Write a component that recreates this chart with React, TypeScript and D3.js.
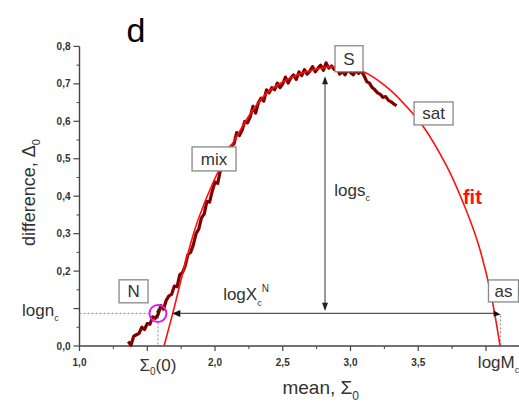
import React from 'react';
import * as d3 from 'd3';

const W = 519;
const H = 403;

// measured difference vs mean (noisy trace)
const dataX = [
  1.36, 1.38, 1.40, 1.42, 1.44, 1.46, 1.48, 1.50, 1.52, 1.54, 1.56, 1.58, 1.60, 1.62, 1.64, 1.66,
  1.68, 1.70, 1.72, 1.74, 1.76, 1.78, 1.80, 1.82, 1.84, 1.86, 1.88, 1.90, 1.92, 1.94, 1.96, 1.98,
  2.00, 2.02, 2.04, 2.06, 2.08, 2.10, 2.12, 2.14, 2.16, 2.18, 2.20, 2.22, 2.24, 2.26, 2.28, 2.30,
  2.32, 2.34, 2.36, 2.38, 2.40, 2.42, 2.44, 2.46, 2.48, 2.50, 2.52, 2.54, 2.56, 2.58, 2.60, 2.62,
  2.64, 2.66, 2.68, 2.70, 2.72, 2.74, 2.76, 2.78, 2.80, 2.82, 2.84, 2.86, 2.88, 2.90, 2.92, 2.94,
  2.96, 2.98, 3.00, 3.02, 3.04, 3.06, 3.08, 3.10, 3.12, 3.14, 3.16, 3.18, 3.20, 3.22, 3.24, 3.26,
  3.28, 3.30, 3.32, 3.34,
];
const dataY = [
  0.012, 0.002, 0.026, 0.030, 0.034, 0.050, 0.044, 0.060, 0.058, 0.078, 0.074, 0.084, 0.108, 0.098, 0.122, 0.134,
  0.138, 0.160, 0.158, 0.190, 0.196, 0.214, 0.244, 0.250, 0.270, 0.300, 0.312, 0.342, 0.352, 0.386, 0.384, 0.414,
  0.438, 0.434, 0.470, 0.492, 0.486, 0.526, 0.534, 0.540, 0.570, 0.562, 0.576, 0.600, 0.596, 0.612, 0.640, 0.622,
  0.650, 0.662, 0.654, 0.684, 0.676, 0.690, 0.684, 0.702, 0.690, 0.700, 0.718, 0.702, 0.716, 0.724, 0.712, 0.732,
  0.722, 0.738, 0.726, 0.734, 0.746, 0.732, 0.742, 0.750, 0.736, 0.756, 0.742, 0.748, 0.738, 0.742, 0.726, 0.734,
  0.724, 0.738, 0.730, 0.724, 0.736, 0.728, 0.735, 0.722, 0.706, 0.702, 0.690, 0.684, 0.676, 0.672, 0.664, 0.666,
  0.656, 0.652, 0.646, 0.642,
];

// fitted curve
const fitX = [1.624, 1.683, 1.875, 2.125, 2.384, 2.613, 2.797, 2.871, 3.092, 3.292, 3.454, 3.528, 3.712, 3.823, 3.934, 4.030, 4.104];
const fitY = [0.000, 0.080, 0.337, 0.537, 0.676, 0.725, 0.743, 0.746, 0.733, 0.684, 0.623, 0.591, 0.479, 0.390, 0.283, 0.150, 0.000];

const xMajorTicks = [1.0, 1.5, 2.0, 2.5, 3.0, 3.5, 4.0];
const xMinorTicks = [1.25, 1.75, 2.25, 2.75, 3.25, 3.75, 4.25];
const xTickLabels = ['1,0', '', '2,0', '2,5', '3,0', '3,5', ''];
const yMajorTicks = [0.0, 0.1, 0.2, 0.3, 0.4, 0.5, 0.6, 0.7, 0.8];
const yMinorTicks = [0.05, 0.15, 0.25, 0.35, 0.45, 0.55, 0.65, 0.75];
const yTickLabels = ['0,0', '', '0,2', '0,3', '0,4', '0,5', '0,6', '0,7', '0,8'];

const stageNames = ['N', 'mix', 'S', 'sat', 'as'];
const stageMean = [1.399, 1.993, 2.989, 3.613, 4.129];
const stageDiff = [0.146, 0.4995, 0.767, 0.621, 0.147];

const FONT = "Arial, 'Liberation Sans', sans-serif";

export default function App() {
  const x = d3.scaleLinear().domain([1, 4.3]).range([79.5, 79.5 + 3.3 * 135.5]);
  const y = d3.scaleLinear().domain([0, 0.8]).range([346, 46.4]);

  const line = d3.line<[number, number]>().x(d => x(d[0])).y(d => y(d[1]));
  const dataPath = line(dataX.map((v, i) => [v, dataY[i]] as [number, number])) || '';
  const fitPath = line.curve(d3.curveCatmullRom.alpha(0.5))(fitX.map((v, i) => [v, fitY[i]] as [number, number])) || '';

  const level = 0.087; // logn_c
  const ly = y(level);
  const sigma00 = 1.579;
  const logM = 4.108;
  const sc = 2.812;
  const axisCol = '#444';
  const txt = '#333';
  const boxW = [29, 44, 28, 39, 30];
  const boxH = [23, 24, 26, 23, 22];

  return (
    <svg width={W} height={H} style={{ position: 'absolute', left: 0, top: 0, background: '#fff' }} fontFamily={FONT}>
      <text x={136} y={42} fontSize={34} textAnchor="middle" fill="#000">d</text>

      {/* axes */}
      <line x1={x(1)} x2={x(1)} y1={y(0)} y2={y(0.8)} stroke={axisCol} strokeWidth={1.4} />
      <line x1={x(1)} x2={W} y1={y(0)} y2={y(0)} stroke={axisCol} strokeWidth={1.4} />
      {yMajorTicks.map((t, i) => (
        <g key={'ym' + i}>
          <line x1={x(1) - 6} x2={x(1)} y1={y(t)} y2={y(t)} stroke={axisCol} strokeWidth={1.2} />
          <text x={x(1) - 9} y={y(t) + 3.5} fontSize={10} fontWeight="bold" textAnchor="end" fill={txt}>{yTickLabels[i]}</text>
        </g>
      ))}
      {yMinorTicks.map((t, i) => (
        <line key={'yn' + i} x1={x(1) - 3} x2={x(1)} y1={y(t)} y2={y(t)} stroke={axisCol} strokeWidth={1} />
      ))}
      {xMajorTicks.map((t, i) => (
        <g key={'xm' + i}>
          <line x1={x(t)} x2={x(t)} y1={y(0)} y2={y(0) + 5} stroke={axisCol} strokeWidth={1.2} />
          <text x={x(t)} y={y(0) + 20} fontSize={10} fontWeight="bold" textAnchor="middle" fill={txt}>{xTickLabels[i]}</text>
        </g>
      ))}
      {xMinorTicks.map((t, i) => (
        <line key={'xn' + i} x1={x(t)} x2={x(t)} y1={y(0)} y2={y(0) + 3} stroke={axisCol} strokeWidth={1} />
      ))}

      {/* axis titles */}
      <text transform={`translate(35,${y(0.41)}) rotate(-90)`} fontSize={18} textAnchor="middle" fill={txt}>
        difference, Δ<tspan fontSize={11} dy={5}>0</tspan>
      </text>
      <text x={x(2.78)} y={394} fontSize={19} textAnchor="middle" fill={txt}>
        mean, Σ<tspan fontSize={12} dy={6}>0</tspan>
      </text>

      {/* guide lines */}
      <line x1={x(1)} x2={x(sigma00) - 9} y1={ly} y2={ly} stroke="#888" strokeWidth={1} strokeDasharray="2 2" />
      <line x1={x(sigma00)} x2={x(sigma00)} y1={ly + 9} y2={y(0)} stroke="#888" strokeWidth={1} strokeDasharray="2 2" />
      <line x1={x(logM)} x2={x(logM)} y1={ly + 2} y2={y(0)} stroke="#888" strokeWidth={1} strokeDasharray="2 2" />

      {/* data + fit */}
      <path d={dataPath} fill="none" stroke="#800000" strokeWidth={3.2} strokeLinejoin="round" />
      <path d={fitPath} fill="none" stroke="#ff1010" strokeWidth={1.6} />

      {/* arrows */}
      <line x1={x(1.69)} x2={x(logM) - 3} y1={ly} y2={ly} stroke="#555" strokeWidth={1.2} />
      <path d={`M${x(1.685)},${ly} l8,-3.5 l0,7 z`} fill="#111" />
      <path d={`M${x(logM)},${ly + 1} l-7,-4 l0,6 z`} fill="#111" />
      <line x1={x(sc)} x2={x(sc)} y1={y(0.715)} y2={y(0.097)} stroke="#555" strokeWidth={1.2} />
      <path d={`M${x(sc)},${y(0.72)} l-3,8 l6,0 z`} fill="#222" />
      <path d={`M${x(sc)},${y(0.094)} l-3,-8 l6,0 z`} fill="#222" />

      {/* N marker */}
      <circle cx={x(sigma00)} cy={ly} r={8.5} fill="none" stroke="#e020e0" strokeWidth={2} />
      <line x1={x(sigma00)} x2={x(sigma00)} y1={ly + 5} y2={ly - 2} stroke="#222" strokeWidth={1.2} />
      <path d={`M${x(sigma00)},${ly - 5} l-2,4 l4,0 z`} fill="#222" />

      {/* stage boxes */}
      {stageNames.map((s, i) => (
        <g key={s}>
          <rect x={x(stageMean[i]) - boxW[i] / 2} y={y(stageDiff[i]) - boxH[i] / 2} width={boxW[i]} height={boxH[i]}
            fill="#fff" stroke="#888" strokeWidth={1.3} />
          <text x={x(stageMean[i])} y={y(stageDiff[i]) + 6} fontSize={17} textAnchor="middle" fill={txt}>{s}</text>
        </g>
      ))}

      {/* annotations */}
      <text x={x(2.88)} y={y(0.4)} fontSize={17} fill={txt}>
        logs<tspan fontSize={9} dy={5}>c</tspan>
      </text>
      <text x={x(2.06)} y={y(0.122)} fontSize={17} fill={txt}>
        logX<tspan fontSize={9} dy={6}>c</tspan><tspan fontSize={10} dy={-14}>N</tspan>
      </text>
      <text x={22} y={ly + 3} fontSize={17} fill={txt}>
        logn<tspan fontSize={9} dy={5}>c</tspan>
      </text>
      <text x={x(sigma00)} y={371} fontSize={17} textAnchor="middle" fill={txt}>
        Σ<tspan fontSize={10} dy={4}>0</tspan><tspan dy={-4}>(0)</tspan>
      </text>
      <text x={x(3.94)} y={368} fontSize={17} fill={txt}>
        logM<tspan fontSize={9} dy={5}>c</tspan>
      </text>
      <text x={x(3.83)} y={y(0.380)} fontSize={20} fontWeight="bold" fill="#ff1010">fit</text>
    </svg>
  );
}
